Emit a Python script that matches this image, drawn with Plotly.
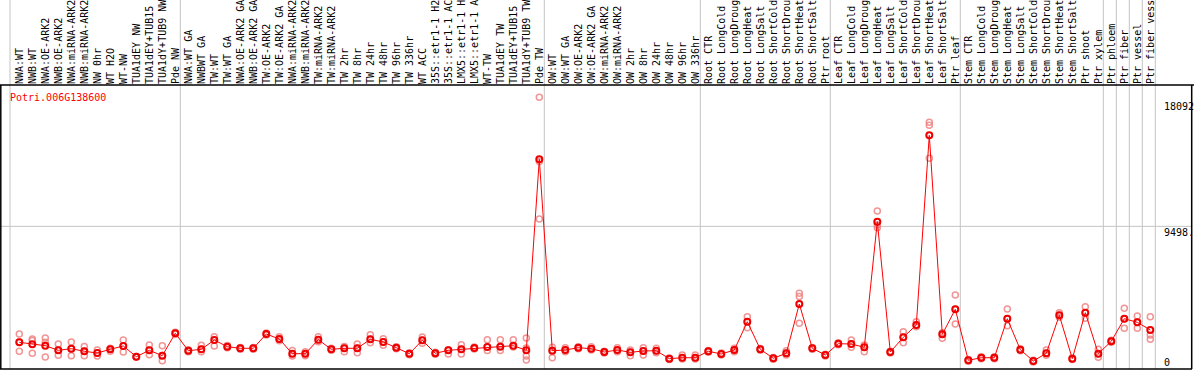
import plotly.graph_objects as go

# ---------------- data ----------------
gene_id = "Potri.006G138600"

labels = [
    "NWA:WT", "NWB:WT", "NWA:OE-ARK2", "NWB:OE-ARK2", "NWA:miRNA-ARK2", "NWB:miRNA-ARK2",
    "NW 0hr", "WT H2O", "WT-NW", "TUA1dEY NW", "TUA1dEY+TUB15", "TUA1dY+TUB9 NW", "Pde NW",
    "NWA:WT GA", "NWBWT GA", "TW:WT", "TW:WT GA", "NWA:OE-ARK2 GA", "NWB:OE-ARK2 GA",
    "TW:OE-ARK2", "TW:OE-ARK2 GA", "NWA:miRNA-ARK2 GA", "NWB:miRNA-ARK2 GA", "TW:miRNA-ARK2",
    "TW:miRNA-ARK2 GA", "TW 2hr", "TW 8hr", "TW 24hr", "TW 48hr", "TW 96hr", "TW 336hr",
    "WT ACC", "35S::etr1-1 H2O", "35S::etr1-1 ACC", "LMX5::etr1-1 H2O", "LMX5::etr1-1 ACC",
    "WT-TW", "TUA1dEY TW", "TUA1dEY+TUB15 TW", "TUA1dY+TUB9 TW", "Pde TW",
    "OW:WT", "OW:WT GA", "OW:OE-ARK2", "OW:OE-ARK2 GA", "OW:miRNA-ARK2", "OW:miRNA-ARK2 GA",
    "OW 2hr", "OW 8hr", "OW 24hr", "OW 48hr", "OW 96hr", "OW 336hr",
    "Root CTR", "Root LongCold", "Root LongDrought", "Root LongHeat", "Root LongSalt",
    "Root ShortCold", "Root ShortDrought", "Root ShortHeat", "Root ShortSalt", "Ptr root",
    "Leaf CTR", "Leaf LongCold", "Leaf LongDrought", "Leaf LongHeat", "Leaf LongSalt",
    "Leaf ShortCold", "Leaf ShortDrought", "Leaf ShortHeat", "Leaf ShortSalt", "Ptr leaf",
    "Stem CTR", "Stem LongCold", "Stem LongDrought", "Stem LongHeat", "Stem LongSalt",
    "Stem ShortCold", "Stem ShortDrought", "Stem ShortHeat", "Stem ShortSalt", "Ptr shoot",
    "Ptr xylem", "Ptr phloem", "Ptr fiber", "Ptr vessel", "Ptr fiber vessel",
]

means = [
    1778, 1645, 1552, 1245, 1352, 1179, 1065, 1312, 1532, 819, 1245, 886, 2377,
    1219, 1312, 1931, 1485, 1378, 1378, 2331, 1998, 1019, 1019, 1951, 1312, 1378, 1378,
    1978, 1798, 1418, 1019, 1911, 1045, 1245, 1312, 1398, 1465, 1485, 1552, 1245, 13964,
    1219, 1265, 1418, 1352, 1132, 1265, 1112, 1199, 1219, 686, 752, 752,
    1179, 999, 1265, 3150, 1312, 713, 1045, 4328, 1378, 932,
    1685, 1665, 1445, 9809, 1132, 2111, 2930, 15562, 2311, 3975,
    579, 752, 752, 3349, 1285, 533, 1045, 3576, 686, 3749, 1019,
    1845, 3349, 3110, 2597,
]

replicates = [
    [2330, 1800, 1180], [1890, 1990, 1050], [2060, 1780, 800], [1670, 1250, 910],
    [1800, 1350, 890], [1490, 1180, 890], [1270, 1060, 870], [1390, 1310, 1180],
    [1930, 1530, 1130], [840, 820, 800], [1600, 1250, 950], [1550, 900, 550],
    [2440, 2380, 2310],
    [1290, 1220, 1150], [1580, 1310, 1150], [2150, 1930, 1530], [1560, 1490, 1420],
    [1440, 1380, 1320], [1440, 1380, 1320], [2400, 2330, 2260], [2150, 2000, 1880],
    [1240, 1020, 870], [1150, 1020, 890], [2150, 1950, 1820], [1380, 1310, 1250],
    [1490, 1380, 1150], [1670, 1380, 1090], [2280, 1980, 1750], [2020, 1800, 1580],
    [1480, 1420, 1350], [1080, 1020, 950], [2130, 1910, 1710], [1110, 1050, 980],
    [1290, 1250, 1000], [1620, 1310, 1000], [1460, 1400, 1330], [1950, 1460, 1240],
    [1950, 1490, 1240], [1950, 1550, 1460], [2060, 1400, 870, 600], [18092, 13810, 9990],
    [1450, 1250, 750], [1420, 1260, 1150], [1480, 1420, 1350], [1480, 1350, 1260],
    [1190, 1130, 1070], [1420, 1260, 1150], [1260, 1110, 890], [1420, 1200, 930],
    [1380, 1220, 1080], [740, 690, 630], [930, 750, 670], [930, 750, 670],
    [1240, 1180, 1120], [1060, 1000, 940], [1380, 1260, 1150], [3480, 3150, 2750],
    [1370, 1310, 1250], [770, 710, 650], [1220, 1045, 930], [5040, 4820, 3040],
    [1440, 1380, 1320], [990, 930, 870],
    [1750, 1690, 1620], [1930, 1670, 1450], [1600, 1450, 1150], [10520, 9590, 9410],
    [1190, 1130, 1070], [2480, 2110, 1750], [3150, 2930, 2820], [16430, 16230, 14030],
    [2420, 2310, 2040], [4930, 3980, 3000],
    [640, 580, 520], [810, 750, 690], [810, 750, 690], [3990, 3350, 2880],
    [1350, 1290, 1220], [590, 530, 470], [1260, 1050, 910], [3750, 3580, 3440],
    [740, 690, 630], [4150, 3750, 3380], [1310, 1020, 780],
    [1910, 1850, 1780], [4040, 3350, 2710], [3530, 3110, 2710], [3480, 2260, 1980],
]

# last sample index of each group (separator drawn after it)
group_ends = [12, 40, 52, 62, 72, 83, 84, 85, 86, 87]

ytick_vals = [18092, 9498, 0]
ytick_text = ["18092", "9498.", "0"]

# ---------------- layout geometry ----------------
W, H = 1194, 370
px_first = 19.3      # pixel x of sample 0
px_step = 13.0       # pixels per sample
top_px, bot_px = 85, 369
val_per_px = 66.59

x_range = [(0 - px_first) / px_step, (W - px_first) / px_step]
y_dom = [(H - bot_px) / H, (H - top_px) / H]
y_range = [0, (bot_px - top_px) * val_per_px]

def pfx(px):
    return px / W

def pfy(py):
    return (H - py) / H

xs = list(range(len(labels)))

rep_x, rep_y = [], []
for i, r in enumerate(replicates):
    for v in r:
        rep_x.append(i)
        rep_y.append(v)

fig = go.Figure()
fig.add_trace(go.Scatter(
    x=rep_x, y=rep_y, mode="markers",
    marker=dict(symbol="circle-open", size=6, color="rgba(238,130,130,0.85)",
                line=dict(width=1.5, color="rgba(238,130,130,0.85)")),
    hoverinfo="skip", cliponaxis=False, showlegend=False,
))
fig.add_trace(go.Scatter(
    x=xs, y=means, mode="lines+markers",
    line=dict(color="#ff0000", width=1),
    marker=dict(symbol="circle-open", size=6, color="#ee0000",
                line=dict(width=2, color="#ee0000")),
    cliponaxis=False, showlegend=False,
))

shapes = []
grey = "#c4c4c4"
shapes.append(dict(type="line", xref="paper", yref="paper",
                   x0=pfx(10), x1=pfx(10), y0=pfy(bot_px), y1=1,
                   line=dict(color=grey, width=1), layer="below"))
for e in group_ends:
    xv = e + 5.0 / px_step
    shapes.append(dict(type="line", xref="x", yref="paper", x0=xv, x1=xv,
                       y0=pfy(bot_px), y1=1, line=dict(color=grey, width=1), layer="below"))
shapes.append(dict(type="line", xref="paper", yref="y", x0=0, x1=pfx(1192),
                   y0=ytick_vals[1], y1=ytick_vals[1],
                   line=dict(color=grey, width=1), layer="below"))
shapes.append(dict(type="line", xref="paper", yref="paper", x0=0, x1=1,
                   y0=pfy(top_px), y1=pfy(top_px), line=dict(color="black", width=1.5)))
shapes.append(dict(type="line", xref="paper", yref="paper", x0=0, x1=pfx(1192),
                   y0=pfy(bot_px), y1=pfy(bot_px), line=dict(color="black", width=1.5)))
shapes.append(dict(type="line", xref="paper", yref="paper", x0=pfx(0.8), x1=pfx(0.8),
                   y0=pfy(bot_px), y1=pfy(top_px), line=dict(color="black", width=1.5)))
shapes.append(dict(type="line", xref="paper", yref="paper", x0=pfx(1191.7), x1=pfx(1191.7),
                   y0=pfy(bot_px), y1=pfy(top_px), line=dict(color="black", width=1.5)))

mono = "DejaVu Sans Mono"
annotations = [dict(
    text=gene_id, xref="paper", yref="paper", x=pfx(7.5), y=pfy(97.5),
    xanchor="left", yanchor="middle", showarrow=False,
    font=dict(family=mono, size=10, color="#ff0000"),
)]
yshifts = [-9.4, -6.6, 7.0]
for v, t, s in zip(ytick_vals, ytick_text, yshifts):
    annotations.append(dict(
        text=t, xref="paper", yref="y", x=pfx(1161.5), y=v, yshift=s,
        xanchor="left", yanchor="middle", showarrow=False,
        font=dict(family=mono, size=10, color="black"),
    ))

fig.update_layout(
    width=W, height=H,
    margin=dict(l=0, r=0, t=0, b=0, pad=0),
    paper_bgcolor="white", plot_bgcolor="white",
    showlegend=False,
    shapes=shapes, annotations=annotations,
    xaxis=dict(range=x_range, side="top", tickmode="array", tickvals=xs, ticktext=labels,
               tickangle=-90, ticks="", showgrid=False, zeroline=False, showline=False,
               tickfont=dict(family=mono, size=10, color="black"),
               ticklabeloverflow="allow", automargin=False, fixedrange=True),
    yaxis=dict(domain=y_dom, range=y_range, showticklabels=False, ticks="",
               showgrid=False, zeroline=False, showline=False, automargin=False,
               fixedrange=True),
    font=dict(family=mono, size=10),
)

fig.write_html(
    "out.html",
    config={"displayModeBar": False},
    post_script="document.body.style.margin='0';document.body.style.padding='0';"
                "document.body.style.overflow='hidden';",
)
